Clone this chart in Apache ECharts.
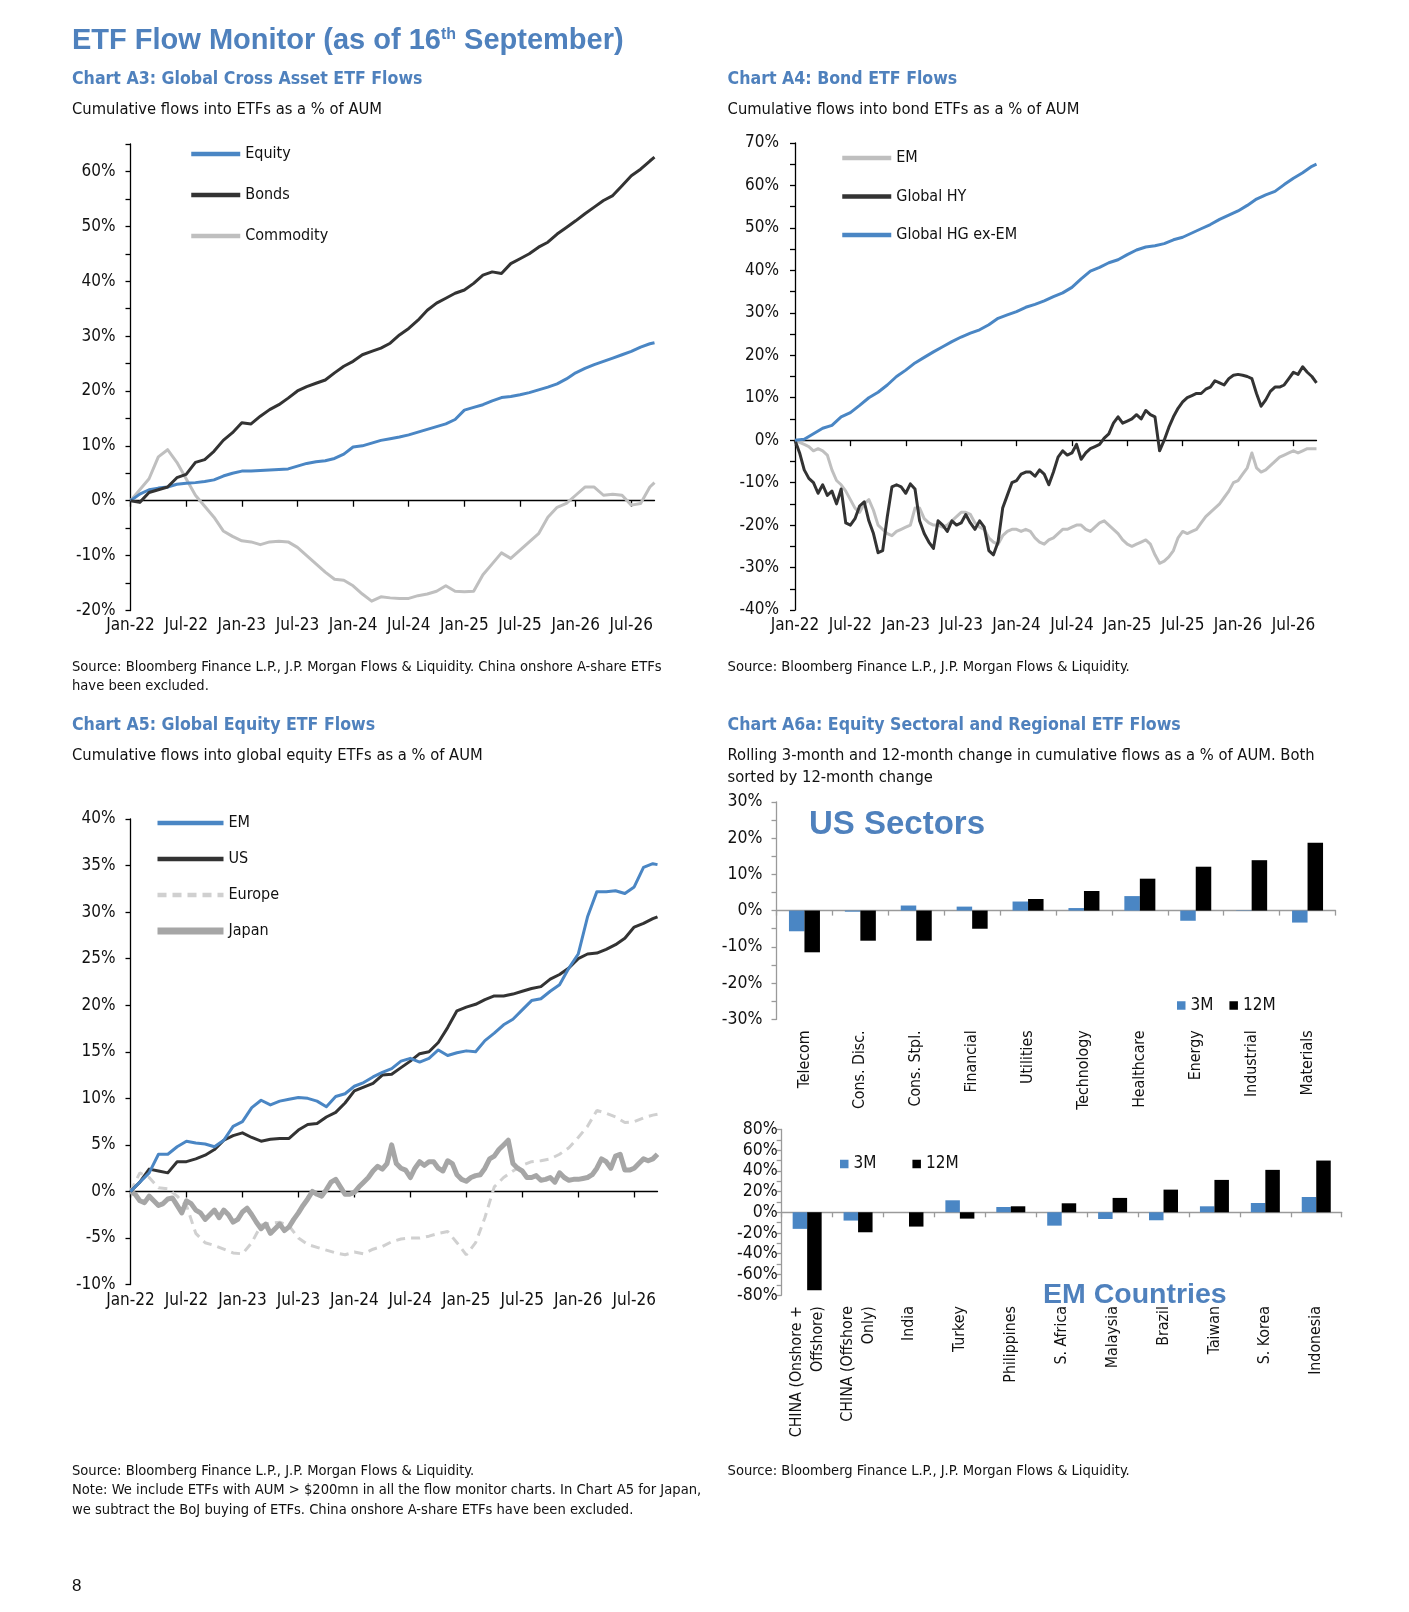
<!DOCTYPE html>
<html><head><meta charset="utf-8">
<script src="https://cdn.jsdelivr.net/npm/echarts@6/dist/echarts.min.js"></script>
<style>html,body{margin:0;padding:0;background:#fff}#c{width:1409px;height:1612px}</style>
</head><body><div id="c"></div>
<script>
// ---------- DATA ----------
const X_LABELS = ['Jan-22','Jul-22','Jan-23','Jul-23','Jan-24','Jul-24','Jan-25','Jul-25','Jan-26','Jul-26'];
// time positions in months since Jan-22 (monthly to mid-Sep-26, and half-monthly)
const T_MONTHLY = Array.from({length:57},(_,i)=>i).concat([56.5]);
const T_HALF = Array.from({length:114},(_,i)=>i/2);

// Chart A3 (monthly)
const A3_EQUITY = [0,1.2,2,2.3,2.5,3,3.2,3.3,3.5,3.8,4.5,5,5.4,5.4,5.5,5.6,5.7,5.8,6.3,6.8,7.1,7.3,7.7,8.5,9.8,10,10.5,11,11.3,11.6,12,12.5,13,13.5,14,14.8,16.5,17,17.5,18.2,18.8,19,19.3,19.7,20.2,20.7,21.3,22.2,23.3,24.1,24.8,25.4,26,26.6,27.2,28,28.6,28.8];
const A3_BONDS = [0,-0.3,1.5,2,2.5,4.2,4.8,7,7.5,9,11,12.4,14.2,14,15.4,16.6,17.5,18.7,20,20.8,21.4,22,23.3,24.5,25.4,26.6,27.2,27.8,28.7,30.2,31.4,32.9,34.7,36,36.9,37.8,38.4,39.6,41.1,41.7,41.4,43.2,44.1,45,46.2,47.1,48.6,49.8,51,52.3,53.5,54.7,55.6,57.4,59.2,60.4,61.9,62.6];
const A3_COMMODITY = [0,2,4,8,9.3,7,4,1,-1,-3,-5.5,-6.5,-7.3,-7.5,-8,-7.5,-7.4,-7.5,-8.5,-10,-11.5,-13,-14.3,-14.5,-15.5,-17,-18.3,-17.5,-17.7,-17.8,-17.8,-17.3,-17,-16.5,-15.5,-16.5,-16.6,-16.5,-13.5,-11.5,-9.5,-10.5,-9,-7.5,-6,-3,-1.2,-0.5,1,2.5,2.5,1,1.2,1,-0.8,-0.5,2.5,3.3];

// Chart A4
const A4_HG = [0,0.2,1.5,2.8,3.5,5.5,6.5,8.2,10,11.3,13,15,16.5,18.2,19.5,20.8,22,23.2,24.3,25.2,26,27.2,28.7,29.5,30.3,31.3,32,32.8,33.8,34.7,36,38,39.8,40.7,41.8,42.5,43.7,44.8,45.5,45.8,46.3,47.2,47.8,48.8,49.8,50.8,52,53,54,55.3,56.8,57.8,58.6,60.2,61.7,63,64.5,65]; // monthly
const A4_HY = [0,-3,-7,-9,-10,-12.5,-10.5,-13,-12,-15,-11.5,-19.5,-20,-18.5,-15.5,-14.5,-19,-22,-26.5,-26,-18,-11,-10.5,-11,-12.5,-10.3,-11.5,-19,-22,-24,-25.5,-19,-20,-21.5,-19,-20,-19.5,-17.5,-19.5,-21,-19,-20.5,-26,-27,-24,-16,-13,-10,-9.5,-8,-7.5,-7.5,-8.5,-7,-8,-10.5,-7.5,-4,-2.5,-3.5,-3,-1,-4.5,-3,-2,-1.5,-1,0.5,1.5,4,5.5,4,4.5,5,6,5,7,6,5.5,-2.5,0,3,5.5,7.5,9,10,10.5,11,11,12,12.5,14,13.5,13,14.5,15.3,15.5,15.3,15,14.5,11,8,9.5,11.5,12.5,12.5,13,14.5,16,15.5,17.3,16,15,13.5]; // half-monthly
const A4_EM = [0,-0.5,-1,-1.5,-2.5,-2,-2.5,-3.5,-7,-9.5,-10.5,-12,-14,-16,-17,-15,-14,-16.5,-20,-21,-22,-22.5,-21.5,-21,-20.5,-20,-16,-16,-18.5,-19.5,-20,-20,-20.5,-20,-19,-18,-17,-17,-17.5,-19.5,-20.5,-21,-23,-24,-24.5,-22.5,-21.5,-21,-21,-21.5,-21,-21.5,-23,-24,-24.5,-23.5,-23,-22,-21,-21,-20.5,-20,-20,-21,-21.5,-20.5,-19.5,-19,-20,-21,-22,-23.5,-24.5,-25,-24.5,-24,-23.5,-24.5,-27,-29,-28.5,-27.5,-26,-23,-21.5,-22,-21.5,-21,-19.5,-18,-17,-16,-15,-13.5,-12,-10,-9.5,-8,-6.5,-3,-6.5,-7.5,-7,-6,-5,-4,-3.5,-3,-2.5,-3,-2.5,-2,-2,-2]; // half-monthly

// Chart A5
const A5_EM = [0,1,2,4,4,4.8,5.4,5.2,5.1,4.8,5.5,7,7.5,9,9.8,9.3,9.7,9.9,10.1,10,9.7,9.1,10.2,10.5,11.3,11.7,12.3,12.8,13.2,14,14.3,13.9,14.3,15.2,14.6,14.9,15.1,15,16.2,17,17.9,18.5,19.5,20.5,20.7,21.5,22.2,24,25.5,29.5,32.2,32.2,32.3,32,32.7,34.8,35.2,35.1];
const A5_US = [0,1,2.4,2.2,2,3.2,3.2,3.5,3.9,4.5,5.5,6,6.3,5.8,5.4,5.6,5.7,5.7,6.6,7.2,7.3,8,8.5,9.5,10.8,11.2,11.6,12.5,12.6,13.3,14,14.8,15,16,17.6,19.4,19.8,20.1,20.6,21,21,21.2,21.5,21.8,22,22.8,23.3,24,25,25.5,25.6,26,26.5,27.2,28.4,28.8,29.3,29.5];
const A5_EUROPE = [0,2,1.5,0.4,0.3,-0.5,-1.5,-4.5,-5.5,-5.8,-6.2,-6.6,-6.7,-5.5,-3.6,-3.4,-3.3,-3.7,-5,-5.7,-6,-6.3,-6.6,-6.8,-6.5,-6.7,-6.2,-5.9,-5.4,-5.1,-5,-5,-4.8,-4.5,-4.3,-5.5,-6.8,-5.5,-2.8,0.5,1.5,2.2,2.8,3.2,3.3,3.5,4,4.7,5.8,7,8.7,8.4,8,7.4,7.5,7.9,8.2,8.3];
const A5_JAPAN = [0,-0.3,-1,-1.2,-0.5,-1,-1.5,-1.3,-0.8,-0.7,-1.5,-2.3,-1,-1.3,-2,-2.3,-3,-2.5,-2,-2.8,-2,-2.5,-3.3,-3,-2.2,-1.8,-2.5,-3.3,-4,-3.5,-4.5,-4,-3.5,-4.2,-3.8,-3,-2.3,-1.5,-0.8,0,-0.3,-0.5,0.2,1,1.3,0.5,-0.3,-0.3,-0.1,0.5,1,1.5,2.2,2.7,2.4,3,5,3,2.5,2.3,1.5,2.5,3.2,2.8,3.2,3.2,2.5,2.2,3.3,3,1.8,1.3,1.1,1.5,1.7,1.8,2.5,3.5,3.8,4.5,5,5.5,3,2.5,2.2,1.5,1.5,1.7,1.2,1.3,1.5,1,2,1.5,1.2,1.3,1.3,1.4,1.5,1.8,2.5,3.5,3.2,2.5,3.8,4,2.3,2.3,2.5,3,3.5,3.3,3.5,4]; // half-monthly

// Chart A6a
const US_SECTORS = ['Telecom','Cons. Disc.','Cons. Stpl.','Financial','Utilities','Technology','Healthcare','Energy','Industrial','Materials'];
const US_3M  = [-5.7,-0.3,1.4,1.1,2.5,0.7,4,-2.8,0.1,-3.3];
const US_12M = [-11.5,-8.3,-8.3,-5,3.2,5.4,8.8,12.1,13.9,18.7];
const EM_COUNTRIES = ['CHINA (Onshore +\nOffshore)','CHINA (Offshore\nOnly)','India','Turkey','Philippines','S. Africa','Malaysia','Brazil','Taiwan','S. Korea','Indonesia'];
const EM_3M  = [-16,-8,0,11.6,5.1,-12.9,-6.5,-7.7,5.8,9,14.8];
const EM_12M = [-75.4,-19.3,-13.8,-6.1,5.8,8.7,13.9,21.9,31.3,41,50];

// ---------- STYLE ----------
const NARROW = "'Liberation Sans Narrow','Arial Narrow','DejaVu Sans Condensed','Liberation Sans',sans-serif";
const ARIAL = "'Liberation Sans',Arial,sans-serif";
const TBLUE = '#4f81bd', BLUE = '#4a86c4', DARK = '#333333', LIGHT = '#bfbfbf';
const AX = {color:'#000', width:1.3};
const AXG = {color:'#9a9a9a', width:1.3};
const pairs = (t, v) => v.map((y, i) => [t[i], y]);
const steps = (a, b, s) => { const r = []; for (let v = a; v <= b + 1e-9; v += s) r.push(v); return r; };
const TICK_POS = X_LABELS.map((_, i) => i * 6);

function timeXAxes(g, max) {
  return [
    {type:'value', gridIndex:g, min:0, max, interval:6,
     axisLine:{onZero:true, lineStyle:AX}, axisTick:{show:true, length:6, lineStyle:AX, customValues:TICK_POS},
     axisLabel:{show:false}, splitLine:{show:false}},
    {type:'value', gridIndex:g, position:'bottom', min:0, max, interval:6,
     axisLine:{show:false, onZero:false}, axisTick:{show:false}, splitLine:{show:false},
     axisLabel:{customValues:TICK_POS, formatter:v => (v % 6 === 0 ? X_LABELS[v/6] : ''), fontFamily:NARROW, fontSize:17, color:'#111', margin:7}}
  ];
}
function yAxis(g, min, max, interval, tickStep, fs, margin, ls) {
  return {type:'value', gridIndex:g, min, max, interval,
    axisLine:{show:true, onZero:false, lineStyle:ls || AX},
    axisTick:{show:true, length:5, lineStyle:ls || AX, customValues:steps(min, max, tickStep)},
    axisLabel:{customValues:steps(min, max - ((max - min) % interval), interval), formatter:v => (Math.abs(v % interval) < 1e-9 ? v + '%' : ''), fontFamily:NARROW, fontSize:fs, color:'#111', margin},
    splitLine:{show:false}};
}
function catXAxes(g, cats, margin) {
  return [
    {type:'category', gridIndex:g, data:cats, axisLine:{onZero:true, lineStyle:AXG},
     axisTick:{show:true, interval:0, alignWithLabel:false, length:5, lineStyle:AXG}, axisLabel:{show:false}},
    {type:'category', gridIndex:g, data:cats, position:'bottom', axisLine:{show:false, onZero:false}, axisTick:{show:false},
     axisLabel:{interval:0, rotate:90, fontFamily:NARROW, fontSize:15.8, lineHeight:21, color:'#111', margin}}
  ];
}
function line(name, x, y, t, v, color, width, extra) {
  return Object.assign({type:'line', name, xAxisIndex:x, yAxisIndex:y, data:pairs(t, v), symbol:'none', showSymbol:false,
    lineStyle:{color, width, join:'round'}, itemStyle:{color}, silent:true, animation:false}, extra || {});
}
const LEG_TEXT = {fontFamily:NARROW, fontSize:16, color:'#111', lineHeight:20};
const LEG_LINE = {orient:'vertical', itemHeight:20, textStyle:LEG_TEXT, itemStyle:{opacity:0}, lineStyle:{width:4.5}, selectedMode:false};

function txt(x, y, text, font, fill) {
  return {type:'text', x, y, silent:true, style:{text, font, fill: fill || '#111', verticalAlign:'middle'}};
}
const H = 'bold 17.6px ' + NARROW, S = '16.4px ' + NARROW, SRC = '14.6px ' + NARROW;

const option = {
  backgroundColor:'#fff',
  animation:false,
  grid:[
    {left:130.5, top:144, width:524, height:466.5},
    {left:795, top:143, width:521.5, height:467},
    {left:130.5, top:819, width:527, height:465.6},
    {left:776.5, top:801.8, width:559, height:217.6},
    {left:781.7, top:1129.5, width:560, height:165.6}
  ],
  xAxis:[].concat(timeXAxes(0, 56.5), timeXAxes(1, 56.5), timeXAxes(2, 56.5), catXAxes(3, US_SECTORS, 11), catXAxes(4, EM_COUNTRIES, 11)),
  yAxis:[
    yAxis(0, -20, 65, 10, 5, 17, 15),
    yAxis(1, -40, 70, 10, 5, 17, 16),
    yAxis(2, -10, 40, 5, 5, 17, 15),
    yAxis(3, -30, 30, 10, 5, 17.5, 14, AXG),
    yAxis(4, -80, 80, 20, 10, 17.5, 4, AXG)
  ],
  legend:[
    Object.assign({left:184, top:139, itemWidth:49, itemGap:21, data:['Equity','Bonds','Commodity']}, LEG_LINE),
    Object.assign({left:835, top:143, itemWidth:49, itemGap:18.5, data:['EM ','Global HY','Global HG ex-EM']}, LEG_LINE),
    Object.assign({left:149, top:808, itemWidth:66, itemGap:16, data:['EM','US','Europe',{name:'Japan', lineStyle:{width:7}}]}, LEG_LINE),
    {left:1172, top:992, orient:'horizontal', icon:'rect', itemWidth:8.5, itemHeight:8.5, itemGap:16, selectedMode:false, textStyle:{fontFamily:NARROW, fontSize:17, color:'#111'}, data:['3M','12M']},
    {left:835, top:1150.5, orient:'horizontal', icon:'rect', itemWidth:8.5, itemHeight:8.5, itemGap:36, selectedMode:false, textStyle:{fontFamily:NARROW, fontSize:17, color:'#111'}, data:['3M','12M']}
  ],
  series:[
    line('Commodity', 0, 0, T_MONTHLY, A3_COMMODITY, LIGHT, 3),
    line('Equity', 0, 0, T_MONTHLY, A3_EQUITY, BLUE, 3),
    line('Bonds', 0, 0, T_MONTHLY, A3_BONDS, DARK, 3),

    line('EM ', 2, 1, T_HALF, A4_EM, LIGHT, 3),
    line('Global HY', 2, 1, T_HALF, A4_HY, DARK, 3),
    line('Global HG ex-EM', 2, 1, T_MONTHLY, A4_HG, BLUE, 3),

    line('Europe', 4, 2, T_MONTHLY, A5_EUROPE, '#d0d0d0', 3, {lineStyle:{color:'#d0d0d0', width:3, type:[9,6]}}),
    line('Japan', 4, 2, T_HALF, A5_JAPAN, '#a6a6a6', 5),
    line('US', 4, 2, T_MONTHLY, A5_US, DARK, 3),
    line('EM', 4, 2, T_MONTHLY, A5_EM, BLUE, 3),

    {type:'bar', name:'3M', xAxisIndex:6, yAxisIndex:3, data:US_3M, barWidth:15.5, barGap:'0%', itemStyle:{color:BLUE}, silent:true},
    {type:'bar', name:'12M', xAxisIndex:6, yAxisIndex:3, data:US_12M, barWidth:15.5, barGap:'0%', itemStyle:{color:'#000'}, silent:true},
    {type:'bar', name:'3M', xAxisIndex:8, yAxisIndex:4, data:EM_3M, barWidth:14.5, barGap:'0%', itemStyle:{color:BLUE}, silent:true},
    {type:'bar', name:'12M', xAxisIndex:8, yAxisIndex:4, data:EM_12M, barWidth:14.5, barGap:'0%', itemStyle:{color:'#000'}, silent:true}
  ],
  graphic:[
    {type:'text', x:72, y:41, silent:true, style:{
      text:'{a|ETF Flow Monitor (as of 16}{s|th}{a| September)}', verticalAlign:'middle',
      rich:{a:{font:'bold 29px ' + ARIAL, fill:TBLUE}, s:{font:'bold 16px ' + ARIAL, fill:TBLUE, verticalAlign:'top'}}}},
    txt(72, 79, 'Chart A3: Global Cross Asset ETF Flows', H, TBLUE),
    txt(72, 110, 'Cumulative flows into ETFs as a % of AUM', S),
    txt(727.6, 79, 'Chart A4: Bond ETF Flows', H, TBLUE),
    txt(727.6, 110, 'Cumulative flows into bond ETFs as a % of AUM', S),
    txt(72, 667, 'Source: Bloomberg Finance L.P., J.P. Morgan Flows & Liquidity. China onshore A-share ETFs', SRC),
    txt(72, 686.5, 'have been excluded.', SRC),
    txt(727.6, 667, 'Source: Bloomberg Finance L.P., J.P. Morgan Flows & Liquidity.', SRC),
    txt(72, 725, 'Chart A5: Global Equity ETF Flows', H, TBLUE),
    txt(72, 756, 'Cumulative flows into global equity ETFs as a % of AUM', S),
    txt(727.6, 725, 'Chart A6a: Equity Sectoral and Regional ETF Flows', H, TBLUE),
    txt(727.6, 756, 'Rolling 3-month and 12-month change in cumulative flows as a % of AUM. Both', S),
    txt(727.6, 777.5, 'sorted by 12-month change', S),
    txt(809, 825, 'US Sectors', 'bold 33px ' + ARIAL, TBLUE),
    txt(1043, 1295, 'EM Countries', 'bold 28.5px ' + ARIAL, TBLUE),
    txt(72, 1471.6, 'Source: Bloomberg Finance L.P., J.P. Morgan Flows & Liquidity.', SRC),
    txt(72, 1490.5, 'Note: We include ETFs with AUM > $200mn in all the flow monitor charts. In Chart A5 for Japan,', SRC),
    txt(72, 1510, 'we subtract the BoJ buying of ETFs. China onshore A-share ETFs have been excluded.', SRC),
    txt(727.6, 1471.6, 'Source: Bloomberg Finance L.P., J.P. Morgan Flows & Liquidity.', SRC),
    txt(72, 1586, '8', '17px ' + ARIAL)
  ]
};
const chart = echarts.init(document.getElementById('c'), null, {renderer:'canvas'});
chart.setOption(option);
</script></body></html>
